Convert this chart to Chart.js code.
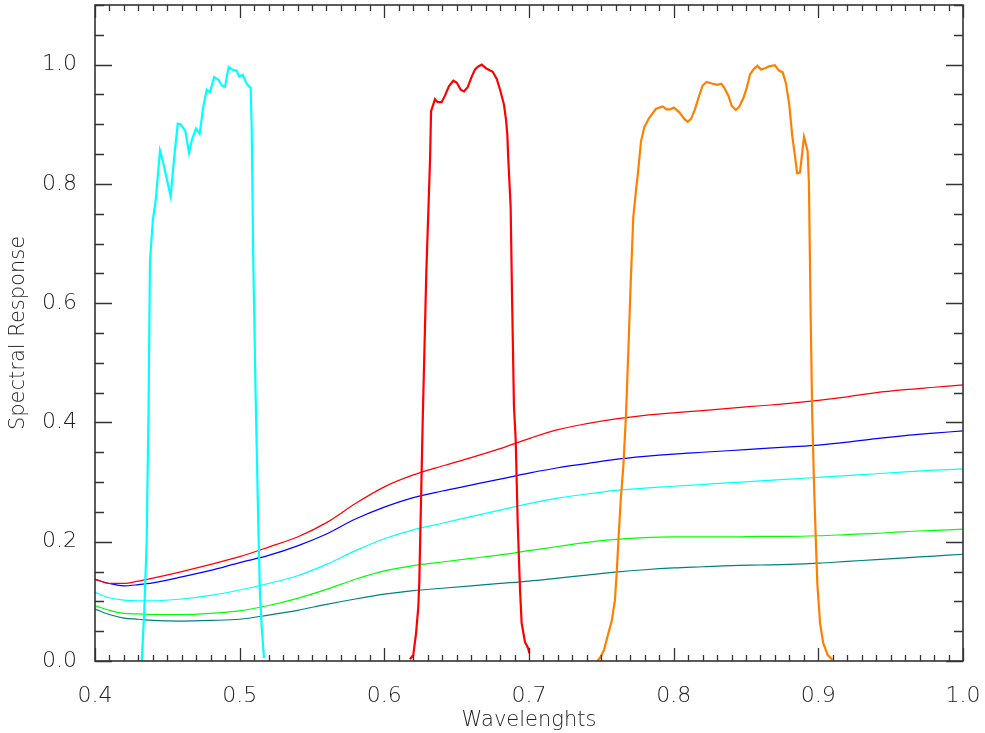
<!DOCTYPE html>
<html><head><meta charset="utf-8">
<script src="https://cdn.jsdelivr.net/npm/chart.js@4.4.1/dist/chart.umd.min.js"></script>
<style>html,body{margin:0;padding:0;background:#fff;overflow:hidden}</style>
</head><body><canvas id="c" width="985" height="733"></canvas>
<script>
// ---- tick labels ----
const xTickValues = [0.4, 0.5, 0.6, 0.7, 0.8, 0.9, 1.0];
const yTickValues = [0.0, 0.2, 0.4, 0.6, 0.8, 1.0];

// ---- background (smooth) curves ----
const bgWavelengths = [0.40,0.41,0.42,0.43,0.44,0.46,0.48,0.50,0.52,0.54,0.56,0.58,0.60,0.62,0.64,0.66,0.68,0.70,0.72,0.74,0.76,0.78,0.80,0.82,0.84,0.86,0.88,0.90,0.92,0.94,0.96,0.98,1.00];
const bgRed   = [0.137,0.130,0.130,0.134,0.139,0.150,0.162,0.175,0.191,0.208,0.232,0.264,0.292,0.312,0.327,0.341,0.356,0.373,0.388,0.398,0.406,0.412,0.416,0.420,0.424,0.428,0.432,0.437,0.443,0.450,0.455,0.459,0.463];
const bgBlue  = [0.137,0.130,0.126,0.128,0.131,0.141,0.152,0.165,0.177,0.193,0.213,0.238,0.258,0.274,0.285,0.295,0.305,0.315,0.324,0.331,0.338,0.343,0.347,0.350,0.353,0.356,0.359,0.362,0.367,0.373,0.378,0.382,0.386];
const bgCyan  = [0.115,0.106,0.102,0.101,0.101,0.104,0.110,0.119,0.130,0.143,0.162,0.185,0.205,0.220,0.231,0.242,0.253,0.264,0.273,0.280,0.286,0.290,0.293,0.296,0.299,0.302,0.305,0.308,0.311,0.314,0.317,0.320,0.322];
const bgGreen = [0.093,0.085,0.080,0.079,0.078,0.078,0.080,0.084,0.093,0.105,0.120,0.137,0.151,0.160,0.166,0.172,0.178,0.185,0.192,0.199,0.204,0.207,0.208,0.208,0.208,0.209,0.209,0.210,0.212,0.214,0.217,0.219,0.221];
const bgTeal  = [0.087,0.078,0.072,0.070,0.068,0.067,0.068,0.070,0.077,0.085,0.095,0.104,0.112,0.118,0.122,0.126,0.130,0.134,0.139,0.144,0.149,0.153,0.156,0.158,0.160,0.161,0.162,0.164,0.167,0.170,0.173,0.176,0.179];

// ---- band responses ----
const blueBandWl  = [0.4323,0.4340,0.4357,0.4370,0.4380,0.4400,0.4420,0.4449,0.4470,0.4523,0.4546,0.4572,0.4592,0.4624,0.4650,0.4670,0.4698,0.4723,0.4749,0.4772,0.4795,0.4823,0.4852,0.4878,0.4899,0.4924,0.4952,0.4979,0.4997,0.5021,0.5048,0.5076,0.5083,0.5094,0.5110,0.5129,0.5140,0.5152,0.5168];
const blueBandVal = [0.000,0.080,0.200,0.420,0.670,0.740,0.773,0.856,0.837,0.779,0.841,0.901,0.900,0.889,0.852,0.874,0.893,0.884,0.930,0.958,0.954,0.979,0.975,0.965,0.963,0.996,0.991,0.990,0.980,0.983,0.968,0.961,0.897,0.673,0.449,0.225,0.114,0.058,0.005];

const redBandWl  = [0.6177,0.6200,0.6219,0.6235,0.6242,0.6265,0.6290,0.6305,0.6316,0.6323,0.6350,0.6369,0.6396,0.6419,0.6447,0.6477,0.6500,0.6528,0.6551,0.6576,0.6599,0.6627,0.6650,0.6673,0.6703,0.6749,0.6777,0.6800,0.6827,0.6841,0.6850,0.6857,0.6873,0.6884,0.6896,0.6908,0.6922,0.6938,0.6949,0.6972,0.6995,0.7002];
const redBandVal = [0.003,0.010,0.046,0.091,0.136,0.400,0.650,0.760,0.841,0.922,0.942,0.937,0.937,0.948,0.964,0.973,0.970,0.958,0.955,0.962,0.977,0.992,0.997,1.000,0.994,0.988,0.976,0.958,0.933,0.908,0.883,0.841,0.762,0.594,0.427,0.371,0.231,0.119,0.064,0.032,0.021,0.013];

const nirBandWl  = [0.7472,0.7490,0.7518,0.7548,0.7571,0.7594,0.7606,0.7617,0.7634,0.7652,0.7670,0.7687,0.7703,0.7721,0.7740,0.7751,0.7774,0.7797,0.7829,0.7878,0.7924,0.7951,0.7975,0.8002,0.8039,0.8074,0.8097,0.8120,0.8147,0.8175,0.8200,0.8228,0.8270,0.8302,0.8329,0.8350,0.8378,0.8401,0.8429,0.8452,0.8482,0.8505,0.8528,0.8555,0.8578,0.8604,0.8631,0.8659,0.8700,0.8728,0.8753,0.8776,0.8799,0.8820,0.8839,0.8853,0.8873,0.8901,0.8926,0.8935,0.8947,0.8958,0.8970,0.8981,0.8993,0.9012,0.9034,0.9065,0.9097];
const nirBandVal = [0.000,0.005,0.018,0.046,0.066,0.102,0.147,0.197,0.270,0.326,0.410,0.522,0.634,0.745,0.790,0.813,0.871,0.895,0.910,0.926,0.930,0.925,0.925,0.928,0.920,0.909,0.904,0.909,0.925,0.947,0.965,0.971,0.968,0.966,0.968,0.961,0.948,0.931,0.924,0.929,0.944,0.961,0.984,0.993,0.998,0.992,0.994,0.997,0.999,0.990,0.987,0.969,0.933,0.880,0.846,0.818,0.819,0.879,0.855,0.801,0.578,0.410,0.298,0.214,0.130,0.063,0.030,0.010,0.002];

const zip = (xs, ys) => xs.map((x, i) => ({x: x, y: ys[i]}));

function bg(label, data, color) {
  return {label, data: zip(bgWavelengths, data), borderColor: color, borderWidth: 1.2,
          pointRadius: 0, tension: 0.4, cubicInterpolationMode: 'monotone', order: 2, fill: false};
}
function band(label, wl, data, color) {
  return {label, data: zip(wl, data), borderColor: color, borderWidth: 2.2,
          pointRadius: 0, tension: 0, order: 1, fill: false};
}

const AXIS = '#222222';
const FONT = '"DejaVu Sans", sans-serif';

const boxTicks = {
  id: 'boxTicks',
  afterDatasetsDraw(chart) {
    const {ctx, chartArea: a, scales: {x, y}} = chart;
    ctx.save();
    ctx.strokeStyle = '#333333';
    ctx.lineWidth = 1.3;
    ctx.beginPath();
    for (let i = 0; i <= 60; i++) {
      const v = 0.4 + i * 0.01;
      const px = Math.round(x.getPixelForValue(v)) + 0.5;
      const len = (i % 10 === 0) ? 13 : 6;
      ctx.moveTo(px, a.bottom); ctx.lineTo(px, a.bottom - len);
      ctx.moveTo(px, a.top); ctx.lineTo(px, a.top + len);
    }
    for (let i = 0; i <= 22; i++) {
      const v = i * 0.05;
      const py = Math.round(y.getPixelForValue(v)) + 0.5;
      const len = (i % 4 === 0) ? 17 : 9;
      ctx.moveTo(a.left, py); ctx.lineTo(a.left + len, py);
      ctx.moveTo(a.right, py); ctx.lineTo(a.right - len, py);
    }
    ctx.stroke();
    ctx.lineWidth = 1.6;
    ctx.strokeRect(a.left, a.top, a.right - a.left, a.bottom - a.top);
    ctx.restore();
  }
};

new Chart(document.getElementById('c'), {
  type: 'line',
  data: {
    datasets: [
      band('Blue band', blueBandWl, blueBandVal, '#00FFFF'),
      band('Red band', redBandWl, redBandVal, '#FF0000'),
      band('NIR band', nirBandWl, nirBandVal, '#FF8000'),
      bg('Curve 1', bgRed, '#FF0000'),
      bg('Curve 2', bgBlue, '#0000FF'),
      bg('Curve 3', bgCyan, '#00FFFF'),
      bg('Curve 4', bgGreen, '#00FF00'),
      bg('Curve 5', bgTeal, '#008080')
    ]
  },
  options: {
    responsive: false,
    animation: false,
    devicePixelRatio: 1,
    layout: {padding: {top: 5, right: 22, left: 0, bottom: 0}},
    plugins: {legend: {display: false}, tooltip: {enabled: false}},
    scales: {
      x: {
        type: 'linear', min: 0.4, max: 1.0,
        afterBuildTicks: s => { s.ticks = xTickValues.map(v => ({value: v})); },
        afterFit: s => { s.height = 72; s.paddingLeft = 0; s.paddingRight = 0; },
        ticks: {color: AXIS, font: {family: FONT, size: 22, weight: 200}, padding: 14,
                maxRotation: 0, autoSkip: false, callback: v => v.toFixed(1)},
        grid: {display: false},
        border: {display: false},
        title: {display: true, text: 'Wavelenghts', color: AXIS,
                font: {family: FONT, size: 21, weight: 200}, padding: {top: 2, bottom: 0}}
      },
      y: {
        type: 'linear', min: 0, max: 1.1,
        afterBuildTicks: s => { s.ticks = yTickValues.map(v => ({value: v})); },
        afterFit: s => { s.width = 95; s.paddingTop = 0; s.paddingBottom = 0; },
        ticks: {color: AXIS, font: {family: FONT, size: 22, weight: 200}, padding: 10,
                autoSkip: false, callback: v => v.toFixed(1)},
        grid: {display: false},
        border: {display: false},
        title: {display: true, text: 'Spectral Response', color: AXIS,
                font: {family: FONT, size: 21, weight: 200}, padding: {top: 6, bottom: 0}}
      }
    }
  },
  plugins: [boxTicks]
});
</script>
</body></html>
